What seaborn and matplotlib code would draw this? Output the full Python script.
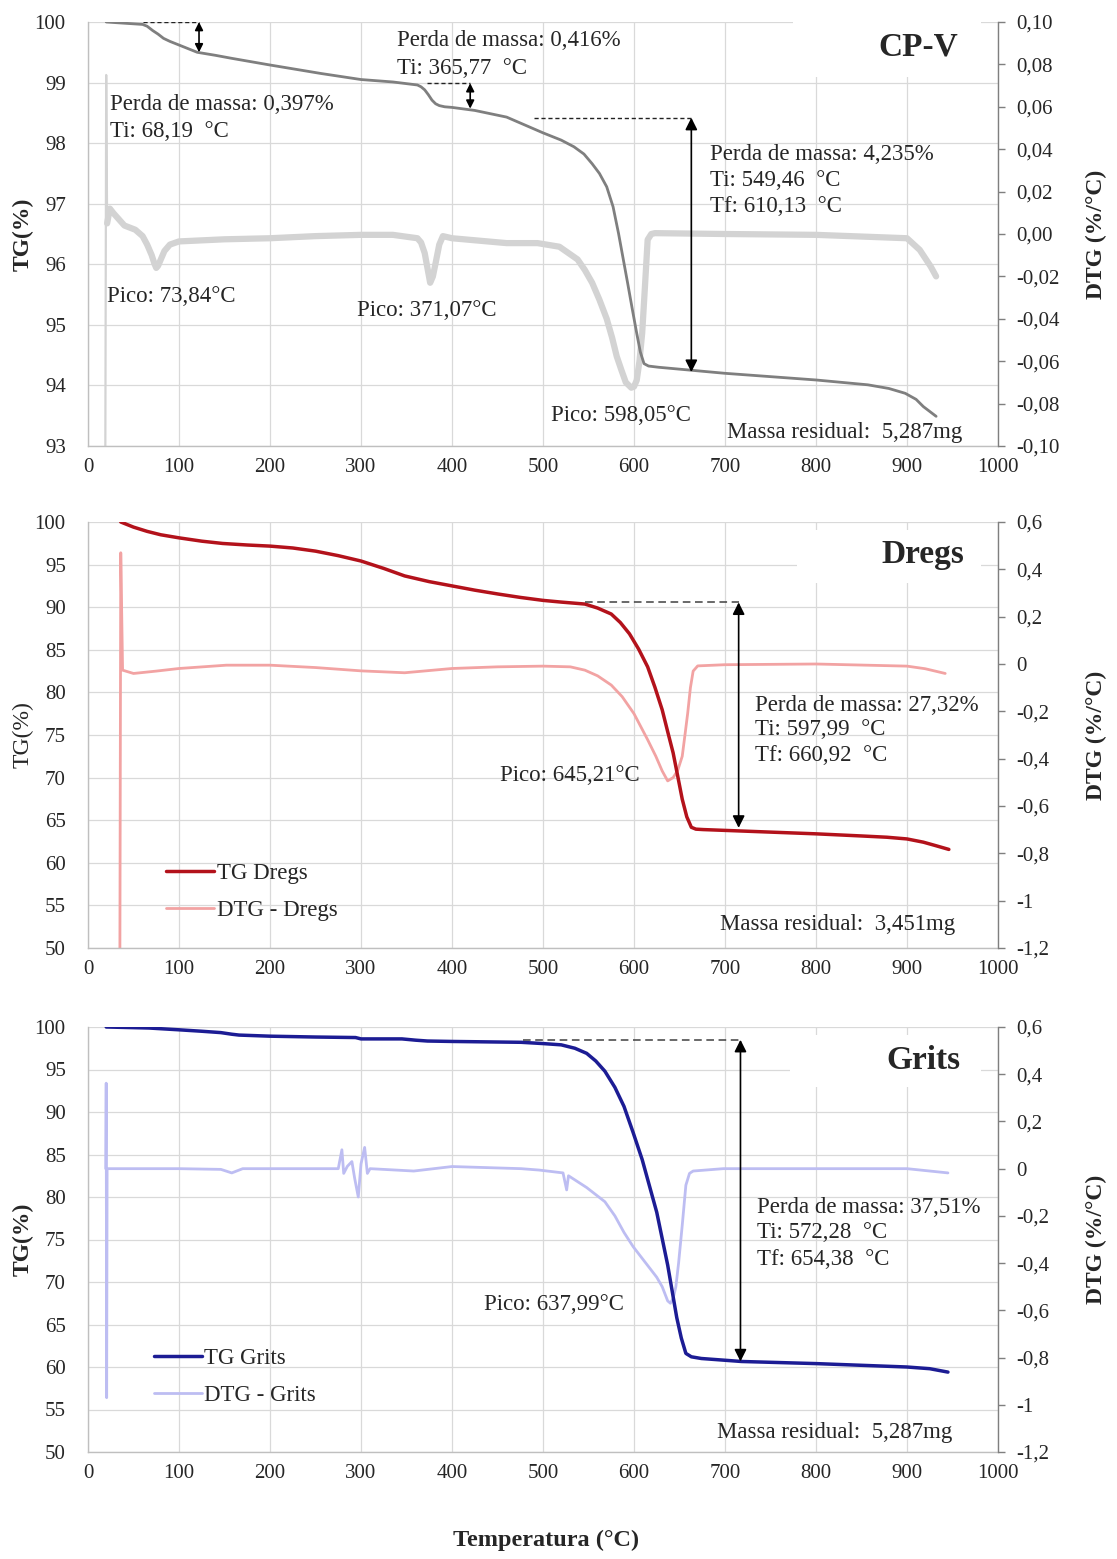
import matplotlib
matplotlib.use('Agg')
import matplotlib.pyplot as plt
from matplotlib.patches import Rectangle
import seaborn as sns

# ---------------------------
# data
# ---------------------------
x_ticks = [0, 100, 200, 300, 400, 500, 600, 700, 800, 900, 1000]

# CP-V
cpv_temp = [20, 60, 65, 71, 77, 83, 90, 100, 110, 120, 140, 158, 200, 256, 300, 335, 362, 366, 370, 374,
            378, 382, 386, 392, 400, 425, 460, 480, 500, 520, 534, 545, 554, 562, 570, 577, 583, 588, 593,
            598, 603, 607, 611, 616, 627, 700, 800, 857, 880, 898, 910, 918, 925, 932]
cpv_tg = [100.0, 99.96, 99.93, 99.86, 99.8, 99.73, 99.68, 99.62, 99.56, 99.5, 99.45, 99.4, 99.29, 99.15,
          99.05, 99.01, 98.96, 98.93, 98.88, 98.8, 98.71, 98.65, 98.62, 98.6, 98.59, 98.54, 98.43, 98.3,
          98.17, 98.05, 97.94, 97.82, 97.66, 97.5, 97.28, 96.95, 96.51, 96.1, 95.69, 95.27, 94.86, 94.55,
          94.36, 94.32, 94.3, 94.20, 94.09, 94.01, 93.95, 93.87, 93.77, 93.65, 93.57, 93.49]
cpv_spike_temp = [19, 20, 21]
cpv_spike_dtg = [-0.11, 0.075, 0.005]
cpv_dtg_temp = [21, 24, 28, 40, 52, 60, 65, 70, 73, 75, 77, 80, 84, 90, 100, 150, 200, 250, 300, 335, 362,
                366, 370, 373, 376, 379, 382, 386, 390, 400, 460, 494, 518, 538, 546, 554, 562, 570, 576,
                581, 586, 591, 597, 600, 603, 606, 609, 612, 615, 619, 623, 700, 800, 900, 914, 926, 932]
cpv_dtg = [0.005, 0.012, 0.0098, 0.004, 0.002, -0.001, -0.005, -0.010, -0.014, -0.016, -0.015, -0.012,
           -0.008, -0.005, -0.0035, -0.0025, -0.002, -0.001, -0.0004, -0.0004, -0.002, -0.004, -0.009,
           -0.016, -0.023, -0.02, -0.0137, -0.005, -0.001, -0.002, -0.0043, -0.0043, -0.006, -0.012,
           -0.017, -0.023, -0.031, -0.04, -0.049, -0.0577, -0.064, -0.070, -0.0725, -0.072, -0.069,
           -0.06, -0.0467, -0.025, -0.0027, 0.0, 0.0004, 0.0, -0.0004, -0.002, -0.0075, -0.0153, -0.020]
cpv_tg_ticks = [93, 94, 95, 96, 97, 98, 99, 100]
cpv_tg_labels = ['93', '94', '95', '96', '97', '98', '99', '100']
cpv_dtg_ticks = [-0.10, -0.08, -0.06, -0.04, -0.02, 0.0, 0.02, 0.04, 0.06, 0.08, 0.10]
cpv_dtg_labels = ['-0,10', '-0,08', '-0,06', '-0,04', '-0,02', '0,00', '0,02', '0,04', '0,06', '0,08', '0,10']
cpv_dash_start = [60, 372, 490]
cpv_arrow_temp = [122, 420, 663]
cpv_arrow_top = [100.0, 98.99, 98.42]
cpv_arrow_bottom = [99.5, 98.57, 94.22]

# Dregs
dregs_temp = [36, 50, 65, 80, 100, 125, 148, 175, 200, 225, 250, 275, 300, 325, 348, 375, 400, 425, 451,
              475, 500, 520, 546, 560, 575, 585, 595, 605, 615, 623, 631, 637, 643, 648, 653, 658, 663,
              668, 676, 800, 850, 878, 900, 918, 932, 946]
dregs_tg = [100.0, 99.4, 98.9, 98.5, 98.14, 97.75, 97.48, 97.3, 97.17, 96.95, 96.58, 96.05, 95.42, 94.55,
            93.67, 93.0, 92.5, 92.0, 91.54, 91.15, 90.8, 90.6, 90.37, 89.9, 89.2, 88.2, 86.88, 85.1, 83.0,
            80.6, 77.95, 75.4, 72.9, 70.2, 67.47, 65.4, 64.17, 63.95, 63.9, 63.4, 63.15, 63.0, 62.8, 62.42,
            62.0, 61.57]
dregs_dtg_temp = [35, 36, 38, 50, 75, 100, 152, 200, 250, 300, 348, 400, 450, 500, 530, 546, 560, 575,
                  587, 600, 615, 624, 631, 637, 643, 648, 653, 656, 659, 662, 665, 670, 700, 800, 900, 920,
                  942]
dregs_dtg = [-1.3, 0.47, -0.026, -0.04, -0.03, -0.019, -0.005, -0.005, -0.015, -0.029, -0.037, -0.019,
             -0.012, -0.009, -0.012, -0.026, -0.05, -0.089, -0.138, -0.21, -0.32, -0.39, -0.452, -0.494,
             -0.48, -0.45, -0.39, -0.3, -0.208, -0.1, -0.03, -0.008, -0.003, 0.0, -0.009, -0.02, -0.04]

# Grits
grits_temp = [20, 67, 100, 125, 146, 158, 166, 200, 250, 294, 300, 345, 360, 373, 400, 476, 500, 520, 535,
              548, 558, 568, 579, 589, 599, 609, 617, 625, 631, 637, 642, 647, 652, 657, 663, 674, 718,
              800, 900, 925, 945]
grits_tg = [100.0, 99.88, 99.67, 99.5, 99.34, 99.15, 99.05, 98.92, 98.82, 98.76, 98.6, 98.6, 98.45, 98.35,
            98.3, 98.2, 98.05, 97.9, 97.5, 96.9, 96.0, 94.8, 92.9, 90.66, 87.6, 84.4, 81.3, 78.2, 75.1,
            72.0, 68.9, 65.8, 63.4, 61.6, 61.2, 61.0, 60.65, 60.4, 60.0, 59.8, 59.4]
grits_dtg_temp = [19.5, 20, 20.5, 21, 24, 100, 146, 158, 170, 272, 275, 279, 281, 285, 290, 293, 297, 300,
                  304, 307, 310, 358, 400, 476, 496, 522, 526, 528, 548, 558, 568, 579, 589, 599, 609, 617,
                  625, 631, 637, 640, 643, 646, 649, 653, 657, 661, 665, 698, 900, 945]
grits_dtg = [0.0, 0.362, -0.97, 0.0, 0.0, 0.0, -0.003, -0.018, 0.0, 0.0, 0.0, 0.08, -0.02, 0.01, 0.03,
             -0.04, -0.12, 0.02, 0.09, -0.02, 0.0, -0.01, 0.009, 0.0, -0.006, -0.018, -0.09, -0.03, -0.08,
             -0.11, -0.14, -0.2, -0.27, -0.33, -0.38, -0.42, -0.46, -0.5, -0.56, -0.57, -0.55, -0.5, -0.40,
             -0.24, -0.07, -0.02, -0.01, 0.0, 0.0, -0.018]

tg_ticks_50 = [50, 55, 60, 65, 70, 75, 80, 85, 90, 95, 100]
tg_labels_50 = [str(v) for v in tg_ticks_50]
dtg_ticks_12 = [-1.2, -1.0, -0.8, -0.6, -0.4, -0.2, 0.0, 0.2, 0.4, 0.6]
dtg_labels_12 = ['-1,2', '-1', '-0,8', '-0,6', '-0,4', '-0,2', '0', '0,2', '0,4', '0,6']

sns.set_style('whitegrid')
plt.rcParams['font.family'] = ['Liberation Serif', 'DejaVu Serif']
TXT = 16.5
TICK = 15

fig = plt.figure(figsize=(11.17, 15.59), dpi=100)
L, W = 88 / 1117, 910 / 1117
boxes = [(446, 424), (948, 426), (1452, 425)]
axs = [fig.add_axes([L, 1 - b / 1559, W, h / 1559]) for b, h in boxes]


def finish(ax, ax2, ylim, yt, yl, rlim, rt, rl, bold_tg=True):
    ax.set_xlim(0, 1000)
    ax.set_ylim(*ylim)
    ax.set_xticks(x_ticks)
    ax.set_xticklabels([str(t) for t in x_ticks])
    ax.set_yticks(yt)
    ax.set_yticklabels(yl)
    ax.set_axisbelow(True)
    ax.grid(True, color='#d9d9d9', lw=0.9)
    ax.tick_params(axis='both', length=0, labelsize=TICK, colors='#262626')
    ax.tick_params(axis='y', pad=16)
    ax.tick_params(axis='x', pad=9)
    ax.spines['top'].set_visible(False)
    ax.spines['right'].set_visible(False)
    for s in ['left', 'bottom']:
        ax.spines[s].set_color('#bfbfbf')
        ax.spines[s].set_linewidth(1)
    ax.set_xlabel('')
    ax.set_ylabel('TG(%)', fontsize=17, fontweight='bold' if bold_tg else 'normal')
    ax.yaxis.set_label_coords(-0.060, 0.5)

    ax2.set_ylim(*rlim)
    ax2.set_yticks(rt)
    ax2.set_yticklabels(rl)
    ax2.grid(False)
    for s in ['left', 'top', 'bottom']:
        ax2.spines[s].set_visible(False)
    ax2.spines['right'].set_color('#7f7f7f')
    ax2.spines['right'].set_linewidth(1)
    ax2.tick_params(axis='y', direction='out', length=5, width=1, color='#7f7f7f',
                    labelsize=TICK, labelcolor='#262626', pad=8)
    ax2.set_ylabel('DTG (%/°C)', fontsize=17, fontweight='bold')
    ax2.yaxis.set_label_coords(1.097, 0.5)


def arrow(ax, t, y0, y1, ms=16):
    ax.annotate('', xy=(t, y1), xytext=(t, y0),
                arrowprops=dict(arrowstyle='<|-|>', color='black', lw=1.2,
                                shrinkA=0, shrinkB=0, mutation_scale=ms))


# ---------------- CP-V ----------------
ax = axs[0]
ax2 = ax.twinx()
sns.lineplot(x=cpv_spike_temp, y=cpv_spike_dtg, ax=ax, color='#d3d3d3', lw=1.6,
             estimator=None, sort=False, transform=ax2.transData)
sns.lineplot(x=cpv_dtg_temp, y=cpv_dtg, ax=ax, color='#d3d3d3', lw=4.5,
             estimator=None, sort=False, transform=ax2.transData)
sns.lineplot(x=cpv_temp, y=cpv_tg, ax=ax, color='#7f7f7f', lw=2, estimator=None, sort=False)
ax.add_patch(Rectangle((775, 99.09), 206, 1.3, facecolor='white', edgecolor='none', zorder=1))
for t0, t1, ytop, ybot, ms in zip(cpv_dash_start, cpv_arrow_temp, cpv_arrow_top, cpv_arrow_bottom,
                                  [12, 12, 18]):
    ax.plot([t0, t1], [ytop, ytop], ls=(0, (3, 2)), color='#222222', lw=1)
    arrow(ax, t1, ytop, ybot, ms)
ax.text(912, 99.59, 'CP-V', fontsize=24, fontweight='bold', ha='center', va='center')
for t, y, s in [(24, 98.63, 'Perda de massa: 0,397%'), (24, 98.2, 'Ti: 68,19  °C'),
                (340, 99.69, 'Perda de massa: 0,416%'), (340, 99.24, 'Ti: 365,77  °C'),
                (684, 97.81, 'Perda de massa: 4,235%'), (684, 97.38, 'Ti: 549,46  °C'),
                (684, 96.95, 'Tf: 610,13  °C'), (21, 95.46, 'Pico: 73,84°C'),
                (296, 95.23, 'Pico: 371,07°C'), (509, 93.5, 'Pico: 598,05°C')]:
    ax.text(t, y, s, fontsize=TXT, ha='left', va='center')
ax.text(831, 93.23, 'Massa residual:  5,287mg', fontsize=TXT, ha='center', va='center')
finish(ax, ax2, (93, 100), cpv_tg_ticks, cpv_tg_labels, (-0.10, 0.10), cpv_dtg_ticks, cpv_dtg_labels)

# ---------------- Dregs ----------------
ax = axs[1]
ax2 = ax.twinx()
sns.lineplot(x=dregs_dtg_temp, y=dregs_dtg, ax=ax, color='#f2a3a3', lw=2,
             estimator=None, sort=False, transform=ax2.transData)
sns.lineplot(x=dregs_temp, y=dregs_tg, ax=ax, color='#b3121b', lw=2.5, estimator=None, sort=False)
ax.add_patch(Rectangle((779, 92.84), 202, 6.22, facecolor='white', edgecolor='none', zorder=1))
ax.plot([546, 715], [90.57, 90.57], ls=(0, (5, 3)), color='#404040', lw=1.1)
arrow(ax, 715, 90.57, 64.1, 18)
ax.text(917, 96.2, 'Dregs', fontsize=24, fontweight='bold', ha='center', va='center')
for t, y, s in [(733, 78.5, 'Perda de massa: 27,32%'), (733, 75.6, 'Ti: 597,99  °C'),
                (733, 72.65, 'Tf: 660,92  °C'), (453, 70.2, 'Pico: 645,21°C')]:
    ax.text(t, y, s, fontsize=TXT, ha='left', va='center')
ax.text(824, 52.7, 'Massa residual:  3,451mg', fontsize=TXT, ha='center', va='center')
h = ax.get_lines()
ax.legend([h[1], h[0]], ['TG Dregs', 'DTG - Dregs'], loc='center left', bbox_to_anchor=(0.086, 0.132),
          frameon=False, fontsize=TXT, handlelength=2.1, handletextpad=0.1, labelspacing=0.7,
          borderpad=0, borderaxespad=0)
finish(ax, ax2, (50, 100), tg_ticks_50, tg_labels_50, (-1.2, 0.6), dtg_ticks_12, dtg_labels_12,
       bold_tg=False)

# ---------------- Grits ----------------
ax = axs[2]
ax2 = ax.twinx()
sns.lineplot(x=grits_dtg_temp, y=grits_dtg, ax=ax, color='#bdbdf2', lw=2,
             estimator=None, sort=False, transform=ax2.transData)
sns.lineplot(x=grits_temp, y=grits_tg, ax=ax, color='#1c1c94', lw=2.5, estimator=None, sort=False)
ax.add_patch(Rectangle((771, 92.94), 210, 6.12, facecolor='white', edgecolor='none', zorder=1))
ax.plot([478, 717], [98.5, 98.5], ls=(0, (5, 3)), color='#404040', lw=1.1)
arrow(ax, 717, 98.5, 60.65, 18)
ax.text(918, 96.1, 'Grits', fontsize=24, fontweight='bold', ha='center', va='center')
for t, y, s in [(735, 78.8, 'Perda de massa: 37,51%'), (735, 75.8, 'Ti: 572,28  °C'),
                (735, 72.7, 'Tf: 654,38  °C'), (435, 67.4, 'Pico: 637,99°C')]:
    ax.text(t, y, s, fontsize=TXT, ha='left', va='center')
ax.text(820, 52.35, 'Massa residual:  5,287mg', fontsize=TXT, ha='center', va='center')
h = ax.get_lines()
ax.legend([h[1], h[0]], ['TG Grits', 'DTG - Grits'], loc='center left', bbox_to_anchor=(0.072, 0.177),
          frameon=False, fontsize=TXT, handlelength=2.1, handletextpad=0.1, labelspacing=0.7,
          borderpad=0, borderaxespad=0)
finish(ax, ax2, (50, 100), tg_ticks_50, tg_labels_50, (-1.2, 0.6), dtg_ticks_12, dtg_labels_12)

fig.text(546 / 1117, 1 - 1540 / 1559, 'Temperatura (°C)', fontsize=17.5, fontweight='bold',
         ha='center', va='center')

fig.savefig('out.png', dpi=100)
